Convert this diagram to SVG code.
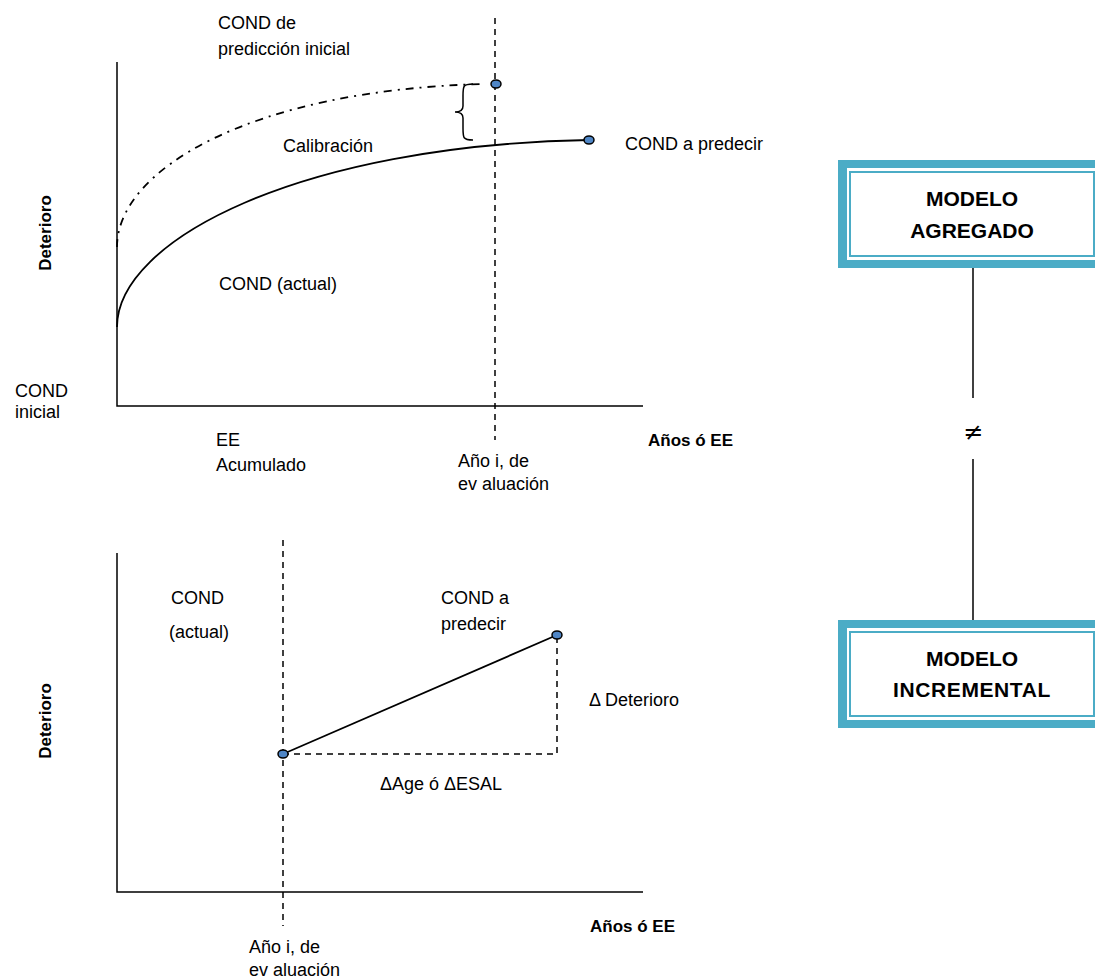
<svg xmlns="http://www.w3.org/2000/svg" width="1095" height="980" viewBox="0 0 1095 980">
  <style>
    .lbl { font-family: "Liberation Sans", Arial, sans-serif; font-size: 18px; fill: #000; }
    .bold { font-family: "Liberation Sans", Arial, sans-serif; font-size: 17px; font-weight: bold; fill: #000; }
    .box { font-family: "Liberation Sans", Arial, sans-serif; font-size: 21px; font-weight: bold; fill: #000; text-anchor: middle; }
    .axis { stroke: #000; stroke-width: 1.5; fill: none; }
    .dash { stroke: #000; stroke-width: 1.5; fill: none; stroke-dasharray: 6 5; }
    .curve { stroke: #000; stroke-width: 1.8; fill: none; }
    .dashdot { stroke: #000; stroke-width: 1.8; fill: none; stroke-dasharray: 8 6 2 6; }
    .pt { fill: #4f86c6; stroke: #000; stroke-width: 1.5; }
    .link { stroke: #000; stroke-width: 1.5; fill: none; }
  </style>

  <rect width="1095" height="980" fill="#fff"/>

  <!-- Upper chart: aggregate model -->
  <g id="chart-agregado">
    <path class="axis" d="M117,62 V406 H643"/>
    <path class="dash" d="M495,18 V440"/>
    <path class="dashdot" d="M117,247 C117,170 250,90 484,84"/>
    <path class="curve" d="M117,327 C117,240 300,145 589,140"/>
    <path class="axis" d="M473,84 C463,84 463,86 463,96 V106 C463,110 460,112 455,112 C460,112 463,114 463,118 V128 C463,138 463,140 473,140"/>
    <ellipse class="pt" cx="496" cy="84" rx="5" ry="4"/>
    <ellipse class="pt" cx="589" cy="140" rx="5" ry="4"/>
    <text class="lbl" x="218" y="29">COND de</text>
    <text class="lbl" x="218" y="55">predicción inicial</text>
    <text class="lbl" x="283" y="152">Calibración</text>
    <text class="lbl" x="625" y="150">COND a predecir</text>
    <text class="lbl" x="219" y="290">COND (actual)</text>
    <text class="lbl" x="15" y="397">COND</text>
    <text class="lbl" x="15" y="418">inicial</text>
    <text class="lbl" x="216" y="446">EE</text>
    <text class="lbl" x="216" y="471">Acumulado</text>
    <text class="bold" x="648" y="446">Años ó EE</text>
    <text class="lbl" x="458" y="467">Año i, de</text>
    <text class="lbl" x="458" y="490">ev aluación</text>
    <text class="bold" transform="translate(51,233) rotate(-90)" text-anchor="middle">Deterioro</text>
  </g>

  <!-- Lower chart: incremental model -->
  <g id="chart-incremental">
    <path class="axis" d="M117,553 V892 H643"/>
    <path class="dash" d="M283,540 V926"/>
    <path class="dash" d="M283,754 H557 V635"/>
    <path class="curve" d="M283,754 L557,635"/>
    <ellipse class="pt" cx="283" cy="754" rx="5" ry="4"/>
    <ellipse class="pt" cx="557" cy="635" rx="5" ry="4"/>
    <text class="lbl" x="171" y="604">COND</text>
    <text class="lbl" x="169" y="638">(actual)</text>
    <text class="lbl" x="441" y="604">COND a</text>
    <text class="lbl" x="441" y="630">predecir</text>
    <text class="lbl" x="589" y="706">Δ Deterioro</text>
    <text class="lbl" x="380" y="790">ΔAge ó ΔESAL</text>
    <text class="bold" x="590" y="932">Años ó EE</text>
    <text class="lbl" x="249" y="953">Año i, de</text>
    <text class="lbl" x="249" y="976">ev aluación</text>
    <text class="bold" transform="translate(51,721) rotate(-90)" text-anchor="middle">Deterioro</text>
  </g>

  <!-- Model boxes -->
  <g id="modelo-agregado">
    <rect x="838" y="160" width="268" height="108" fill="#4bacc6"/>
    <rect x="847" y="168" width="250" height="92" fill="#fff"/>
    <rect x="850" y="172" width="244" height="84" fill="none" stroke="#4bacc6" stroke-width="2"/>
    <text class="box" x="972" y="206">MODELO</text>
    <text class="box" x="972" y="238">AGREGADO</text>
  </g>

  <g id="modelo-incremental">
    <rect x="838" y="620" width="268" height="108" fill="#4bacc6"/>
    <rect x="847" y="628" width="250" height="92" fill="#fff"/>
    <rect x="850" y="632" width="244" height="84" fill="none" stroke="#4bacc6" stroke-width="2"/>
    <text class="box" x="972" y="666">MODELO</text>
    <text class="box" x="972" y="697" letter-spacing="0.6">INCREMENTAL</text>
  </g>

  <!-- Connector between the two models -->
  <g id="connectors">
    <path class="link" d="M973,268 V398"/>
    <path class="link" d="M973,459 V620"/>
    <text x="973" y="440" text-anchor="middle" font-family="'DejaVu Sans', sans-serif" font-size="24">≠</text>
  </g>
</svg>
